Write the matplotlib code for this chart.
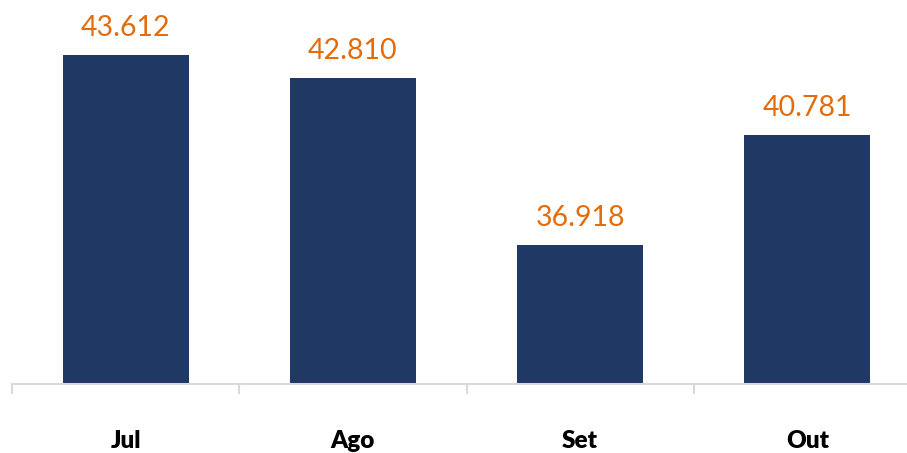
import matplotlib
matplotlib.use("Agg")
import matplotlib.pyplot as plt

# dados (mil)
meses = ['Jul', 'Ago', 'Set', 'Out']
valores = [43612, 42810, 36918, 40781]
rotulos = ['43.612', '42.810', '36.918', '40.781']

plt.rcParams['font.family'] = ['Lato', 'DejaVu Sans']

W, H = 907, 453
fig = plt.figure(figsize=(W / 100, H / 100), dpi=100)
# eixo estende além da borda direita (gráfico recortado)
ax = fig.add_axes([12 / W, (H - 384) / H, 909 / W, 384 / H])

x = range(len(meses))
ax.bar(x, valores, width=0.555, color='#203864', zorder=2)
ax.set_xlim(-0.5, len(meses) - 0.5)
ax.set_ylim(32020, 45550)

for xi, v, t in zip(x, valores, rotulos):
    ax.annotate(t, (xi, v), xytext=(0, 10), textcoords='offset points',
                ha='center', va='bottom', color='#E46C0A', fontsize=20.5)

for s in ['top', 'right', 'left']:
    ax.spines[s].set_visible(False)
ax.spines['bottom'].set_color('#d9d9d9')
ax.spines['bottom'].set_linewidth(1.5)
ax.set_yticks([])

# marcas entre categorias
ax.set_xticks([i - 0.5 for i in range(len(meses) + 1)], minor=False)
ax.set_xticklabels([])
ax.tick_params(axis='x', length=7, width=1.5, color='#d9d9d9')
ax.set_xticks(list(x), minor=True)
ax.set_xticklabels(meses, minor=True, fontsize=17.5, fontweight='heavy')
ax.tick_params(axis='x', which='minor', length=0, pad=33)

fig.savefig('out.png', dpi=100)
